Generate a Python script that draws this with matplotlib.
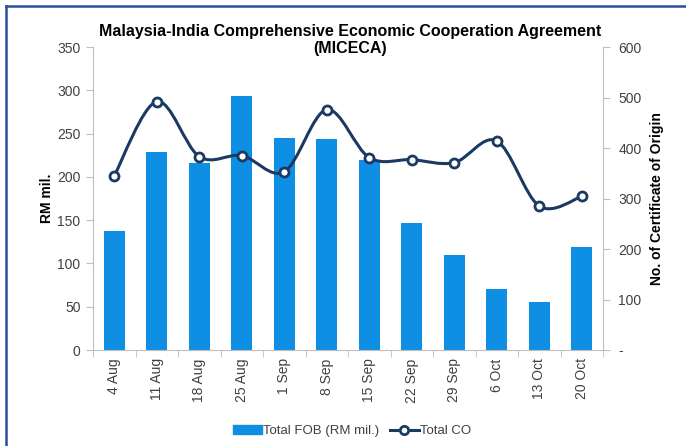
import numpy as np
import matplotlib
matplotlib.use("Agg")
import matplotlib.pyplot as plt
from matplotlib.path import Path
from matplotlib.patches import PathPatch, Rectangle
from matplotlib.lines import Line2D

weeks = ["4 Aug", "11 Aug", "18 Aug", "25 Aug", "1 Sep", "8 Sep", "15 Sep",
         "22 Sep", "29 Sep", "6 Oct", "13 Oct", "20 Oct"]
total_fob = [137, 229, 216, 293, 245, 244, 220, 147, 110, 70, 55, 119]
total_co = [345, 492, 383, 385, 353, 476, 381, 377, 371, 414, 285, 304]

left_ticks = [0, 50, 100, 150, 200, 250, 300, 350]
right_ticks = [0, 100, 200, 300, 400, 500, 600]
right_labels = ["-", "100", "200", "300", "400", "500", "600"]

BAR = "#0e8fe3"
LINE = "#1b3a63"
GRID = "#bfbfbf"
TXT = "#404040"

plt.rcParams['font.family'] = ['Liberation Sans', 'DejaVu Sans']

fig = plt.figure(figsize=(6.86, 4.46), dpi=100)
ax = fig.add_axes([93/686, 1-350/446, (603-93)/686, (350-47)/446])
ax2 = ax.twinx()

x = np.arange(len(weeks))
ax.bar(x, total_fob, width=0.5, color=BAR, zorder=2)
ax.set_xlim(-0.5, len(weeks) - 0.5)
ax.set_ylim(0, 350)
ax.set_yticks(left_ticks)
ax.set_yticklabels([str(t) for t in left_ticks], fontsize=10, color=TXT)
ax.set_xticks(x)
ax.set_xticklabels(weeks, rotation=90, fontsize=10, color=TXT)
ax.tick_params(axis='x', length=0, pad=6)
ax.set_xticks(np.arange(-0.5, len(weeks), 1.0), minor=True)
ax.tick_params(axis='x', which='minor', length=5, color=GRID, direction='out')
ax.tick_params(axis='y', length=5, color=GRID, pad=4)

ax.spines["top"].set_visible(False)
ax.spines["right"].set_visible(False)
ax2.spines["top"].set_visible(False)
ax2.spines["left"].set_visible(False)
ax2.spines["bottom"].set_visible(False)
ax.spines["left"].set_color(GRID)
ax.spines["bottom"].set_color(GRID)
ax2.spines["right"].set_color(GRID)

ax2.set_ylim(0, 600)
ax2.set_yticks(right_ticks)
ax2.set_yticklabels(right_labels, fontsize=10, color=TXT)
ax2.tick_params(axis='y', length=5, color=GRID, pad=6)

# smooth line (Excel-like) via cubic Bezier segments through the data points
ys = np.array(total_co, dtype=float)
xs = x.astype(float)
verts = [(xs[0], ys[0])]
codes = [Path.MOVETO]
n = len(xs)
for i in range(n - 1):
    p0 = np.array([xs[max(i - 1, 0)], ys[max(i - 1, 0)]])
    p1 = np.array([xs[i], ys[i]])
    p2 = np.array([xs[i + 1], ys[i + 1]])
    p3 = np.array([xs[min(i + 2, n - 1)], ys[min(i + 2, n - 1)]])
    c1 = p1 + (p2 - p0) / 6.0
    c2 = p2 - (p3 - p1) / 6.0
    verts += [tuple(c1), tuple(c2), tuple(p2)]
    codes += [Path.CURVE4] * 3
path = Path(verts, codes)
ax2.add_patch(PathPatch(path, facecolor="none", edgecolor=LINE, lw=2.2, zorder=3))
ax2.plot(xs, ys, linestyle="none", marker="o", markersize=6.5,
         markerfacecolor="white", markeredgecolor=LINE, markeredgewidth=2, zorder=4)

ax.set_ylabel("RM mil.", fontsize=10, fontweight="bold", color="black", labelpad=2)
ax2.set_ylabel("No. of Certificate of Origin", fontsize=10, fontweight="bold",
               color="black", labelpad=6)

fig.text(350/686, 1 - 40/446, "Malaysia-India Comprehensive Economic Cooperation Agreement\n(MICECA)",
         ha="center", va="center", fontsize=11.5, fontweight="bold", color="black",
         linespacing=1.2)

handles = [Rectangle((0, 0), 1, 1, color=BAR),
           Line2D([0], [0], color=LINE, lw=2.2, marker="o", markersize=6,
                  markerfacecolor="white", markeredgecolor=LINE, markeredgewidth=2)]
leg = fig.legend(handles, ["Total FOB (RM mil.)", "Total CO"], loc="center",
                 bbox_to_anchor=(352/686, 1 - 431/446), ncol=2, frameon=False,
                 fontsize=9.5, handlelength=2.2, handletextpad=0.1, columnspacing=0.8)
for t in leg.get_texts():
    t.set_color(TXT)

# figure border (left and top visible)
fig.add_artist(Line2D([6/686, 6/686], [0, 1 - 6/446], color="#2c4ea0", lw=1.8,
                      transform=fig.transFigure))
fig.add_artist(Line2D([6/686, 1], [1 - 6/446, 1 - 6/446], color="#2c4ea0", lw=1.8,
                      transform=fig.transFigure))

fig.savefig("out.png", dpi=100)
